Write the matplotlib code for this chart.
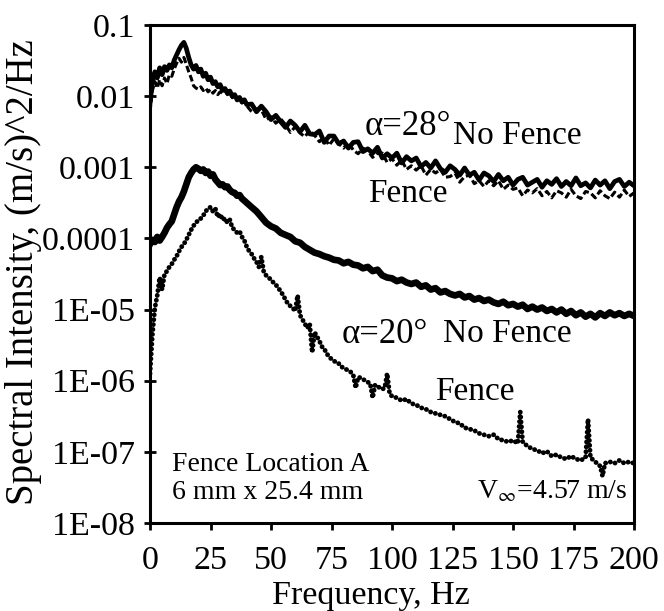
import numpy as np
import matplotlib
matplotlib.use("Agg")
import matplotlib.pyplot as plt
from matplotlib.ticker import FixedLocator, FixedFormatter, NullLocator

plt.rcParams["font.family"] = ["Liberation Serif", "DejaVu Serif"]
plt.rcParams["mathtext.fontset"] = "stix"

# ---------------------------------------------------------------------------
# Spectra, (m/s)^2/Hz
# ---------------------------------------------------------------------------
# shared frequency grid for three spectra: 1 Hz up to 40 Hz, 2 Hz above
freq = np.concatenate([np.arange(0, 41, 1), np.arange(42, 201, 2)])

s28_nofence = [
    7.9e-3, 1.6e-2, 2.2e-2, 1.8e-2, 2.5e-2, 2.0e-2, 2.6e-2, 2.3e-2, 2.75e-2, 2.5e-2,
    3.2e-2, 3.8e-2, 4.5e-2, 5.2e-2, 5.7e-2, 4.7e-2, 3.5e-2, 2.75e-2, 2.4e-2, 2.7e-2,
    2.2e-2, 2.4e-2, 1.9e-2, 2.1e-2, 1.7e-2, 1.85e-2, 1.5e-2, 1.6e-2, 1.35e-2, 1.45e-2,
    1.2e-2, 1.28e-2, 1.1e-2, 1.18e-2, 1.0e-2, 1.05e-2, 8.9e-3, 9.6e-3, 8.3e-3, 8.9e-3,
    7.6e-3,
    7.76e-3, 6.03e-3, 7.24e-3, 6.03e-3, 4.68e-3, 5.37e-3, 4.37e-3, 3.63e-3, 4.47e-3, 3.89e-3,
    3.16e-3, 3.89e-3, 2.95e-3, 2.88e-3, 3.24e-3, 2.24e-3, 2.75e-3, 2.75e-3, 2.14e-3, 2.34e-3,
    1.86e-3, 2.24e-3, 2.29e-3, 1.66e-3, 1.82e-3, 1.58e-3, 1.91e-3, 1.35e-3, 1.55e-3, 1.35e-3,
    1.58e-3, 1.15e-3, 1.41e-3, 1.23e-3, 1.35e-3, 1.02e-3, 1.17e-3, 9.77e-4, 1.23e-3, 9.55e-4,
    8.51e-4, 1.05e-3, 9.33e-4, 7.76e-4, 9.77e-4, 7.76e-4, 8.51e-4, 6.61e-4, 8.32e-4, 7.59e-4,
    6.31e-4, 7.94e-4, 6.46e-4, 7.24e-4, 5.62e-4, 6.76e-4, 7.24e-4, 5.62e-4, 6.17e-4, 6.76e-4,
    5.25e-4, 6.46e-4, 5.75e-4, 6.92e-4, 5.37e-4, 6.31e-4, 5.50e-4, 7.08e-4, 5.50e-4, 6.03e-4,
    5.13e-4, 6.61e-4, 5.62e-4, 6.46e-4, 5.01e-4, 6.31e-4, 6.76e-4, 5.37e-4, 6.17e-4, 5.50e-4,
]

s28_fence = [
    6.0e-3, 1.2e-2, 1.6e-2, 1.3e-2, 1.7e-2, 1.4e-2, 1.8e-2, 1.5e-2, 2.0e-2, 1.9e-2,
    2.4e-2, 2.9e-2, 3.4e-2, 3.0e-2, 3.5e-2, 2.8e-2, 2.2e-2, 1.8e-2, 1.4e-2, 1.3e-2,
    1.25e-2, 1.35e-2, 1.2e-2, 1.3e-2, 1.15e-2, 1.25e-2, 1.1e-2, 1.2e-2, 1.05e-2, 1.15e-2,
    1.1e-2, 1.2e-2, 1.05e-2, 1.1e-2, 9.5e-3, 1.0e-2, 8.6e-3, 9.2e-3, 8.0e-3, 8.5e-3,
    7.3e-3,
    6.03e-3, 6.61e-3, 6.46e-3, 4.68e-3, 5.13e-3, 4.17e-3, 4.79e-3, 3.98e-3, 3.09e-3, 3.72e-3,
    3.02e-3, 2.69e-3, 3.31e-3, 2.82e-3, 2.29e-3, 2.63e-3, 2.04e-3, 2.51e-3, 2.14e-3, 1.86e-3,
    2.24e-3, 1.74e-3, 1.55e-3, 1.86e-3, 1.70e-3, 1.38e-3, 1.58e-3, 1.58e-3, 1.17e-3, 1.32e-3,
    1.07e-3, 1.26e-3, 9.33e-4, 1.05e-3, 9.12e-4, 1.05e-3, 7.76e-4, 9.33e-4, 8.32e-4, 9.33e-4,
    7.24e-4, 7.41e-4, 8.32e-4, 6.17e-4, 7.41e-4, 7.76e-4, 5.89e-4, 6.46e-4, 5.37e-4, 6.46e-4,
    5.50e-4, 6.46e-4, 4.90e-4, 5.62e-4, 4.90e-4, 5.13e-4, 3.98e-4, 4.79e-4, 4.37e-4, 5.01e-4,
    3.98e-4, 4.57e-4, 3.72e-4, 4.68e-4, 4.37e-4, 3.80e-4, 4.90e-4, 3.98e-4, 3.63e-4, 4.57e-4,
    4.37e-4, 3.72e-4, 4.68e-4, 3.98e-4, 3.63e-4, 4.47e-4, 3.80e-4, 4.79e-4, 3.89e-4, 4.37e-4,
]

s20_nofence = [
    8.32e-5, 9.55e-5, 8.91e-5, 1.05e-4, 9.33e-5, 1.05e-4, 1.20e-4, 1.41e-4, 1.58e-4, 1.74e-4,
    2.19e-4, 2.75e-4, 3.31e-4, 3.80e-4, 4.57e-4, 5.75e-4, 7.24e-4, 8.32e-4, 9.33e-4, 1.00e-3,
    9.55e-4, 8.91e-4, 9.33e-4, 8.32e-4, 8.71e-4, 7.59e-4, 7.94e-4, 6.76e-4, 6.17e-4, 5.62e-4,
    5.75e-4, 5.25e-4, 5.37e-4, 4.79e-4, 4.47e-4, 4.37e-4, 3.98e-4, 4.07e-4, 3.63e-4, 3.39e-4,
    3.16e-4,
    2.75e-4, 2.40e-4, 2.00e-4, 1.66e-4, 1.48e-4, 1.38e-4, 1.20e-4, 1.12e-4, 1.05e-4, 9.12e-5,
    8.71e-5, 7.59e-5, 6.92e-5, 6.31e-5, 6.03e-5, 5.62e-5, 5.37e-5, 5.01e-5, 4.90e-5, 4.47e-5,
    4.68e-5, 4.27e-5, 4.17e-5, 3.80e-5, 3.98e-5, 3.47e-5, 3.63e-5, 3.02e-5, 2.82e-5, 2.75e-5,
    2.51e-5, 2.63e-5, 2.40e-5, 2.29e-5, 2.40e-5, 2.09e-5, 2.19e-5, 1.91e-5, 2.00e-5, 1.74e-5,
    1.82e-5, 1.66e-5, 1.58e-5, 1.66e-5, 1.48e-5, 1.55e-5, 1.38e-5, 1.45e-5, 1.32e-5, 1.38e-5,
    1.26e-5, 1.20e-5, 1.29e-5, 1.15e-5, 1.20e-5, 1.10e-5, 1.17e-5, 1.02e-5, 1.10e-5, 1.00e-5,
    1.07e-5, 9.55e-6, 1.02e-5, 9.12e-6, 1.00e-5, 8.71e-6, 9.55e-6, 8.32e-6, 9.12e-6, 7.94e-6,
    8.71e-6, 7.76e-6, 8.91e-6, 8.13e-6, 9.12e-6, 8.32e-6, 8.91e-6, 8.13e-6, 8.71e-6, 8.13e-6,
]

# the fenced 20 deg spectrum has its own grid so the narrow peaks keep their width
freq20_fence = list(range(0, 101)) + [
    102, 104, 106, 108, 110, 112, 114, 116, 118, 120,
    122, 124, 126, 128, 130, 132, 134, 136, 138, 140,
    142, 144, 146, 148, 150, 152, 153, 154, 156, 158,
    160, 162, 164, 166, 168, 170, 172, 174, 176, 178,
    180, 181, 182, 184, 186, 187, 188, 190, 192, 194,
    196, 198, 200,
]

s20_fence = [
    1.26e-6, 4.47e-6, 1.05e-5, 1.58e-5, 2.82e-5, 1.91e-5, 3.16e-5, 3.47e-5, 3.98e-5, 4.37e-5,
    5.01e-5, 5.62e-5, 6.61e-5, 7.59e-5, 8.32e-5, 9.55e-5, 1.12e-4, 1.32e-4, 1.51e-4, 1.66e-4,
    1.82e-4, 1.91e-4, 2.09e-4, 2.40e-4, 2.63e-4, 2.75e-4, 2.40e-4, 2.63e-4, 2.00e-4, 2.19e-4,
    1.82e-4, 1.91e-4, 1.66e-4, 1.82e-4, 1.41e-4, 1.32e-4, 1.20e-4, 1.26e-4, 1.05e-4, 9.33e-5,
    7.59e-5, 6.61e-5, 6.03e-5, 5.25e-5, 4.68e-5, 3.98e-5, 5.50e-5, 3.39e-5, 3.02e-5, 2.82e-5,
    2.63e-5, 2.40e-5, 2.24e-5, 2.00e-5, 1.82e-5, 1.58e-5, 1.38e-5, 1.20e-5, 1.12e-5, 1.05e-5,
    9.55e-6, 1.58e-5, 8.32e-6, 7.24e-6, 6.31e-6, 5.50e-6, 6.31e-6, 2.51e-6, 4.79e-6, 4.17e-6,
    3.63e-6, 3.02e-6, 2.82e-6, 2.40e-6, 2.19e-6, 2.00e-6, 1.91e-6, 1.78e-6, 1.74e-6, 1.58e-6,
    1.51e-6, 1.45e-6, 1.38e-6, 1.32e-6, 1.20e-6, 7.94e-7, 1.12e-6, 1.10e-6, 1.05e-6, 1.00e-6,
    9.55e-7, 9.12e-7, 5.75e-7, 8.71e-7, 8.32e-7, 7.94e-7, 7.59e-7, 7.94e-7, 1.26e-6, 6.61e-7,
    6.03e-7,
    5.75e-7, 5.25e-7, 5.50e-7, 4.79e-7, 4.57e-7, 4.17e-7, 3.98e-7, 3.63e-7, 3.47e-7, 3.31e-7,
    3.16e-7, 2.88e-7, 2.63e-7, 2.51e-7, 2.19e-7, 2.09e-7, 2.00e-7, 1.82e-7, 1.74e-7, 1.66e-7,
    1.74e-7, 1.51e-7, 1.45e-7, 1.38e-7, 1.45e-7, 1.32e-7, 3.63e-7, 1.38e-7, 1.20e-7, 1.10e-7,
    1.05e-7, 9.55e-8, 1.02e-7, 8.71e-8, 9.12e-8, 8.32e-8, 7.94e-8, 8.71e-8, 7.94e-8, 7.59e-8,
    8.32e-8, 2.88e-7, 8.32e-8, 7.24e-8, 6.31e-8, 4.57e-8, 6.92e-8, 7.24e-8, 6.92e-8, 7.59e-8,
    6.92e-8, 7.24e-8, 6.92e-8,
]

assert len(s28_nofence) == len(freq) == len(s28_fence) == len(s20_nofence)
assert len(s20_fence) == len(freq20_fence)

y_ticks = [1e-1, 1e-2, 1e-3, 1e-4, 1e-5, 1e-6, 1e-7, 1e-8]
y_tick_labels = ["0.1", "0.01", "0.001", "0.0001", "1E-05", "1E-06", "1E-07", "1E-08"]
x_ticks = [0, 25, 50, 75, 100, 125, 150, 175, 200]

# ---------------------------------------------------------------------------
fig = plt.figure(figsize=(6.64, 6.11), dpi=100)
ax = fig.add_axes([150 / 664, 1 - 523 / 611, 484 / 664, 498 / 611])

ax.plot(freq, s28_nofence, color="black", lw=3.4, solid_joinstyle="round", zorder=3)
ax.plot(freq, s28_fence, color="black", lw=2.2, ls=(0, (2.2, 1.0)), zorder=4)
ax.plot(freq, s20_nofence, color="black", lw=4.8, solid_joinstyle="round", zorder=3)
ax.plot(freq20_fence, s20_fence, color="black", lw=3.5, ls=(0, (0.01, 1.0)),
        dash_capstyle="round", zorder=4)

ax.set_yscale("log")
ax.set_xlim(0, 200)
ax.set_ylim(1e-8, 1e-1)

ax.yaxis.set_major_locator(FixedLocator(y_ticks))
ax.yaxis.set_major_formatter(FixedFormatter(y_tick_labels))
ax.yaxis.set_minor_locator(NullLocator())
ax.set_xticks(x_ticks)
ax.set_xticklabels([str(v) for v in x_ticks])

for side in ("left", "right", "top", "bottom"):
    ax.spines[side].set_linewidth(2.2)

ax.tick_params(axis="y", direction="inout", length=8, width=2.0, pad=7, labelsize=24.5)
ax.tick_params(axis="x", direction="out", length=5, width=2.0, pad=11, labelsize=24.5)

ax.set_xlabel("Frequency, Hz", fontsize=24.5)
ax.xaxis.set_label_coords(0.457, -0.115)
ax.set_ylabel("Spectral Intensity, (m/s)^2/Hz", fontsize=28, va="center")
ax.yaxis.set_label_coords(-0.262, 0.504)

# curve annotations
ax.text(88.8, 3.8e-3, "\u03b1=28\u00b0", fontsize=25, ha="left", va="center")
ax.text(125.2, 2.75e-3, "No Fence", fontsize=24, ha="left", va="center")
ax.text(90.1, 4.2e-4, "Fence", fontsize=24, ha="left", va="center")
ax.text(79.3, 4.5e-6, "\u03b1=20\u00b0", fontsize=25, ha="left", va="center")
ax.text(121.1, 4.5e-6, "No Fence", fontsize=24, ha="left", va="center")
ax.text(117.8, 6.9e-7, "Fence", fontsize=24, ha="left", va="center")

ax.text(9.1, 6.75e-8, "Fence Location A", fontsize=20, ha="left", va="center")
ax.text(9.1, 2.72e-8, "6 mm x 25.4 mm", fontsize=20, ha="left", va="center")
ax.text(197.1, 2.72e-8, r"V$_{\infty}$=4.57 m/s", fontsize=20, ha="right", va="center")

fig.savefig("out.png", dpi=100)
